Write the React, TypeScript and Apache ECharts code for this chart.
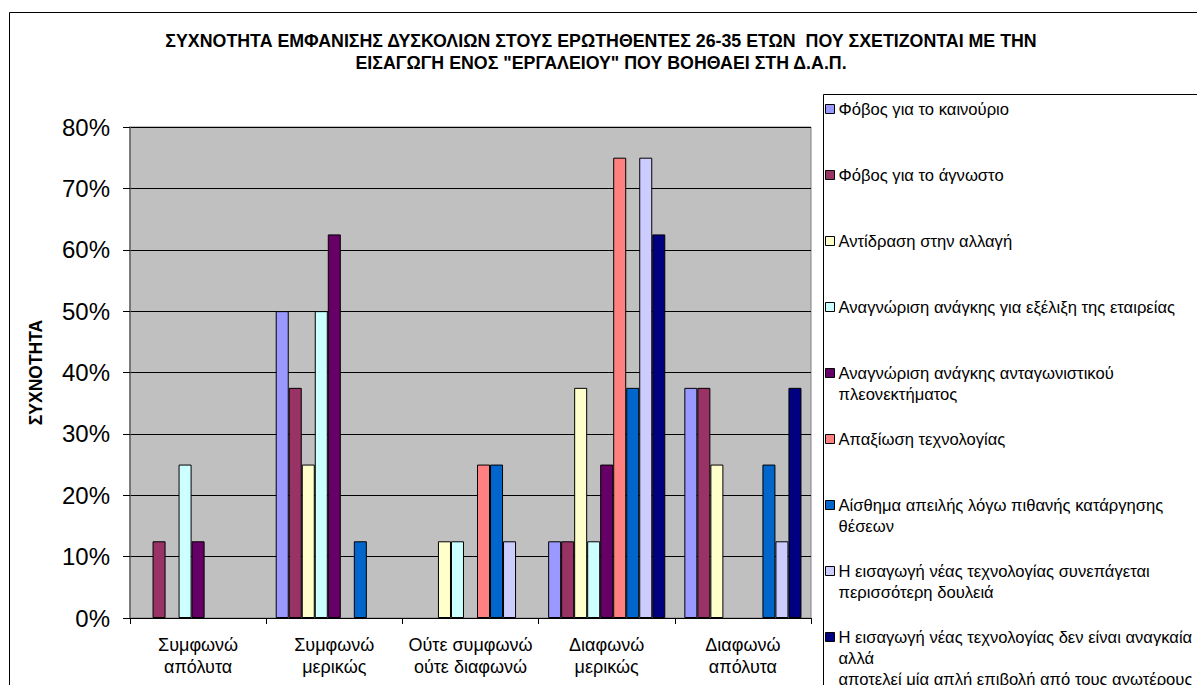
import React, { useEffect, useRef } from "react";
import * as echarts from "echarts";

// Answer categories (x axis)
const categories: string[] = [
  "Συμφωνώ\nαπόλυτα",
  "Συμφωνώ\nμερικώς",
  "Ούτε συμφωνώ\nούτε διαφωνώ",
  "Διαφωνώ\nμερικώς",
  "Διαφωνώ\nαπόλυτα",
];

// Difficulty statements (series)
const seriesNames: string[] = [
  "Φόβος για το καινούριο",
  "Φόβος για το άγνωστο",
  "Αντίδραση στην αλλαγή",
  "Αναγνώριση ανάγκης για εξέλιξη της εταιρείας",
  "Αναγνώριση ανάγκης ανταγωνιστικού\nπλεονεκτήματος",
  "Απαξίωση τεχνολογίας",
  "Αίσθημα απειλής λόγω πιθανής κατάργησης\nθέσεων",
  "Η εισαγωγή νέας τεχνολογίας συνεπάγεται\nπερισσότερη δουλειά",
  "Η εισαγωγή νέας τεχνολογίας δεν είναι αναγκαία\nαλλά\nαποτελεί μία απλή επιβολή από τους ανωτέρους",
];

const seriesColors: string[] = [
  "#9999FF",
  "#993366",
  "#FFFFCC",
  "#CCFFFF",
  "#660066",
  "#FF8080",
  "#0066CC",
  "#CCCCFF",
  "#000080",
];

// Percentage of respondents per category, one array per statement
const fearOfNew: number[] = [0, 50, 0, 12.5, 37.5];
const fearOfUnknown: number[] = [12.5, 37.5, 0, 12.5, 37.5];
const resistanceToChange: number[] = [0, 25, 12.5, 37.5, 25];
const needForGrowth: number[] = [25, 50, 12.5, 12.5, 0];
const needForAdvantage: number[] = [12.5, 62.5, 0, 25, 0];
const techObsolescence: number[] = [0, 0, 25, 75, 0];
const jobThreat: number[] = [0, 12.5, 25, 37.5, 25];
const moreWork: number[] = [0, 0, 12.5, 75, 12.5];
const imposedFromAbove: number[] = [0, 0, 0, 62.5, 37.5];

const seriesValues: number[][] = [
  fearOfNew,
  fearOfUnknown,
  resistanceToChange,
  needForGrowth,
  needForAdvantage,
  techObsolescence,
  jobThreat,
  moreWork,
  imposedFromAbove,
];

const yTicks = { min: 0, max: 80, interval: 10 };

const titleLines: string[] = [
  "ΣΥΧΝΟΤΗΤΑ ΕΜΦΑΝΙΣΗΣ ΔΥΣΚΟΛΙΩΝ ΣΤΟΥΣ ΕΡΩΤΗΘΕΝΤΕΣ 26-35 ΕΤΩΝ  ΠΟΥ ΣΧΕΤΙΖΟΝΤΑΙ ΜΕ ΤΗΝ",
  'ΕΙΣΑΓΩΓΗ ΕΝΟΣ "ΕΡΓΑΛΕΙΟΥ" ΠΟΥ ΒΟΗΘΑΕΙ ΣΤΗ Δ.Α.Π.',
];
const yAxisTitle = "ΣΥΧΝΟΤΗΤΑ";

const FONT = "'Liberation Sans', Arial, sans-serif";

export default function App() {
  const ref = useRef<HTMLDivElement>(null);

  useEffect(() => {
    if (!ref.current) return;
    const chart = echarts.init(ref.current, undefined, { renderer: "svg" });

    const legendLineHeight = 21;
    const legendFirstCenter = 109;
    const legendStep = 66;

    // One legend block per entry, so every entry keeps an even spacing
    // regardless of how many lines its text wraps onto. Blank lines are
    // prepended so the marker sits beside the first line of text.
    const legends = seriesNames.map((name, i) => {
      const n = name.split("\n").length;
      const center = legendFirstCenter + i * legendStep;
      return {
        show: true,
        data: [name],
        orient: "vertical",
        left: 825,
        top: center - ((2 * n - 1) * legendLineHeight) / 2,
        padding: 0,
        itemWidth: 9,
        itemHeight: 9,
        itemGap: 0,
        icon: "rect",
        selectedMode: false,
        itemStyle: { borderColor: "#000", borderWidth: 1 },
        formatter: (nm: string) => {
          const k = nm.split("\n").length;
          return "\n".repeat(k - 1) + nm;
        },
        textStyle: {
          fontFamily: FONT,
          fontSize: 16.6,
          color: "#000",
          lineHeight: legendLineHeight,
          padding: [0, 0, 0, -1],
        },
      };
    });

    chart.setOption({
      animation: false,
      backgroundColor: "#fff",
      title: {
        text: titleLines.join("\n"),
        left: 601,
        top: 30,
        padding: 0,
        textAlign: "center",
        textStyle: {
          fontFamily: FONT,
          fontSize: 17.8,
          fontWeight: "bold",
          color: "#000",
          lineHeight: 22,
        },
      },
      legend: legends,
      graphic: [
        {
          type: "rect",
          shape: { x: 9.5, y: 12.5, width: 1400, height: 900 },
          style: { fill: "none", stroke: "#000", lineWidth: 1 },
          silent: true,
          z: -10,
        },
        {
          type: "rect",
          shape: { x: 823.5, y: 94.5, width: 600, height: 800 },
          style: { fill: "none", stroke: "#000", lineWidth: 1 },
          silent: true,
          z: -10,
        },
      ],
      grid: {
        left: 130,
        right: 386,
        top: 127,
        bottom: 67,
        show: true,
        backgroundColor: "#C0C0C0",
        borderColor: "#808080",
        borderWidth: 1,
      },
      xAxis: {
        type: "category",
        data: categories,
        axisLine: { show: true, lineStyle: { color: "#000", width: 1 } },
        axisTick: {
          show: true,
          alignWithLabel: false,
          length: 6,
          lineStyle: { color: "#000" },
        },
        axisLabel: {
          fontFamily: FONT,
          fontSize: 18,
          color: "#000",
          lineHeight: 22,
          margin: 16,
          interval: 0,
        },
        splitLine: { show: false },
      },
      yAxis: {
        type: "value",
        min: yTicks.min,
        max: yTicks.max,
        interval: yTicks.interval,
        name: yAxisTitle,
        nameLocation: "middle",
        nameRotate: 90,
        nameGap: 85,
        nameTextStyle: {
          fontFamily: FONT,
          fontSize: 17.5,
          fontWeight: "bold",
          color: "#000",
        },
        axisLine: { show: true, lineStyle: { color: "#666", width: 1.5 } },
        axisTick: { show: true, length: 7, lineStyle: { color: "#000" } },
        axisLabel: {
          formatter: "{value}%",
          fontFamily: FONT,
          fontSize: 24,
          color: "#000",
          margin: 20,
        },
        splitLine: { show: true, lineStyle: { color: "#000", width: 1 } },
      },
      series: seriesNames.map((name, i) => ({
        type: "bar",
        name,
        // an empty cell draws no bar at all
        data: seriesValues[i].map((v) => (v === 0 ? null : v)),
        barGap: "0%",
        barCategoryGap: "14%",
        itemStyle: {
          color: seriesColors[i],
          borderColor: "#000",
          borderWidth: 1,
        },
      })),
    });

    return () => chart.dispose();
  }, []);

  return (
    <div
      ref={ref}
      style={{ position: "absolute", left: 0, top: 0, width: 1197, height: 685 }}
    />
  );
}
